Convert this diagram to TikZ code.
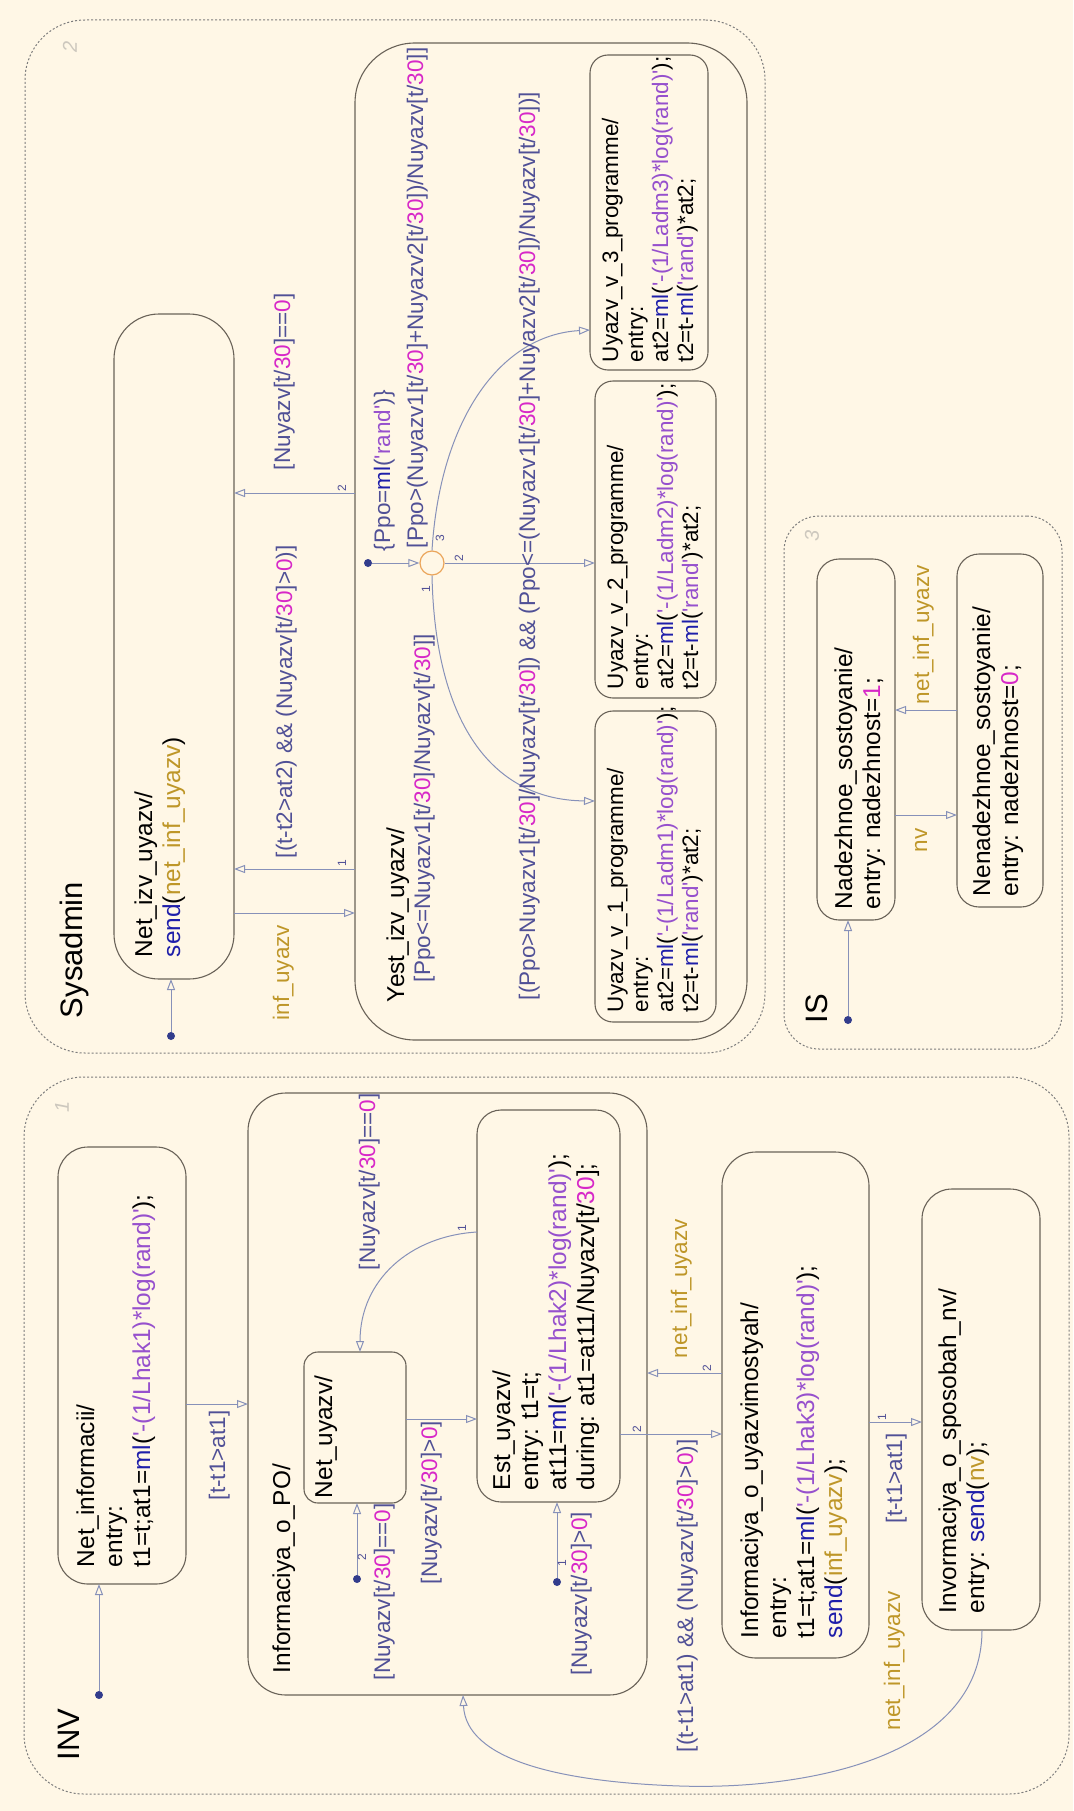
\documentclass[tikz,border=0pt]{standalone}
\usepackage{fontspec}
\newfontfamily\chartfont{Liberation Sans}
\usetikzlibrary{arrows.meta}

\definecolor{bg}{RGB}{255,247,230}
\definecolor{stborder}{RGB}{105,98,88}
\definecolor{trline}{RGB}{135,145,185}
\definecolor{trtext}{RGB}{80,80,150}
\definecolor{kwc}{RGB}{30,30,170}
\definecolor{strc}{RGB}{150,80,205}
\definecolor{numc}{RGB}{215,40,200}
\definecolor{evc}{RGB}{190,150,40}
\definecolor{subb}{RGB}{125,125,125}
\definecolor{dotc}{RGB}{50,60,140}
\definecolor{junc}{RGB}{235,165,90}
\definecolor{faint}{RGB}{205,200,190}

% syntax colouring of action and label texts
\newcommand\skw[1]{\textcolor{kwc}{#1}}
\newcommand\sst[1]{\textcolor{strc}{#1}}
\newcommand\snum[1]{\textcolor{numc}{#1}}
\newcommand\sev[1]{\textcolor{evc}{#1}}

% rounded box node from its corner coordinates: [style]{name}{x1}{y1}{x2}{y2}{radius}
\newcommand\mkbox[7][stbox]{%
  \node[#1, rounded corners=#7pt, minimum width={(#5)-(#3)}, minimum height={(#6)-(#4)}]
    (#2) at ({((#3)+(#5))/2},{((#4)+(#6))/2}) {};}

\begin{document}
\begin{tikzpicture}[x=1pt,y=-1pt,
  stbox/.style={draw=stborder, line width=1.1pt, fill=bg, inner sep=0pt, outer sep=0pt},
  subbox/.style={draw=subb, line width=1pt, dash pattern=on 2pt off 2pt, inner sep=0pt, outer sep=0pt},
  tr/.style={draw=trline, line width=1pt, -{Triangle[open, length=11pt, width=8pt, line width=1pt]}},
  rt/.style={rotate=90, inner sep=0pt, outer sep=0pt, anchor=base west},
  sttext/.style={rt, font=\chartfont\fontsize{24.4}{28}\selectfont, text=black},
  smtext/.style={rt, font=\chartfont\fontsize{22.4}{25}\selectfont, text=black},
  lbl/.style={rt, font=\chartfont\fontsize{22.5}{25}\selectfont, text=trtext},
  ord/.style={rotate=90, inner sep=0pt, font=\chartfont\fontsize{12}{12}\selectfont, text=trtext},
  ttl/.style={rt, font=\chartfont\fontsize{31}{36}\selectfont, text=black},
  faintnum/.style={rotate=90, inner sep=0pt, font=\chartfont\itshape\fontsize{20}{20}\selectfont, text=faint},
  dflt/.style={circle, fill=dotc, inner sep=0pt, minimum size=8pt},
]
\useasboundingbox (0,0) rectangle (1073,1811);
\fill[bg] (0,0) rectangle (1073,1811);

% ---------- subcharts ----------
\mkbox[subbox]{sys}{25}{20}{765}{1053}{60}
\mkbox[subbox]{isch}{784}{516}{1062}{1049}{35}
\mkbox[subbox]{inv}{24}{1077}{1069}{1794}{60}

\node[ttl] (tSys) at (82,1018) {Sysadmin};
\node[ttl] (tIS) at (827,1023) {IS};
\node[ttl] (tINV) at (79,1760) {INV};
\node[faintnum] (nSys) at (70,47) {2};
\node[faintnum] (nIS) at (812,536) {3};
\node[faintnum] (nINV) at (62,1107) {1};

% ---------- states ----------
\mkbox{netizv}{114}{314}{234}{979}{45}
\mkbox{yest}{355}{43}{747}{1040}{60}
\mkbox{uv3}{590}{55}{708}{370}{18}
\mkbox{uv2}{595}{381}{716}{698}{18}
\mkbox{uv1}{595}{711}{716}{1022}{18}
\mkbox{nad}{817}{559}{895}{920}{22}
\mkbox{nenad}{957}{554}{1043}{907}{22}
\mkbox{netinf}{58}{1147}{186}{1584}{30}
\mkbox{infpo}{248}{1093}{647}{1695}{38}
\mkbox{netuy}{304}{1352}{406}{1503}{14}
\mkbox{estuy}{477}{1110}{620}{1502}{24}
\mkbox{infuy}{722}{1152}{869}{1658}{34}
\mkbox{irv}{922}{1189}{1040}{1630}{30}

% ---------- Sysadmin transitions ----------
\node[dflt] (dNi) at (171,1036) {};
\draw[tr] (dNi) -- (dNi |- netizv.south);
\draw[tr] (netizv.east |- 0,913) -- (yest.west |- 0,913);
\draw[tr] (yest.west |- 0,869) -- (netizv.east |- 0,869);
\draw[tr] (yest.west |- 0,493) -- (netizv.east |- 0,493);
\node[ord] (oS1) at (342,863) {1};
\node[ord] (oS2) at (342,488) {2};

\node[circle, draw=junc, fill=bg, line width=1.2pt, minimum size=24pt, inner sep=0pt] (jn) at (432,563) {};
\node[dflt] (dJ) at (368,563) {};
\draw[tr] (dJ) -- (jn);
\draw[tr] (jn) -- (uv2.west |- jn);
\draw[tr] (jn.north) .. controls (440,420) and (500,335) .. (uv3.west |- 0,330);
\draw[tr] (jn.south) .. controls (435,720) and (490,800) .. (uv1.west |- 0,801);
\node[ord] (oJ3) at (440,538) {3};
\node[ord] (oJ2) at (459,558) {2};
\node[ord] (oJ1) at (426,589) {1};

% ---------- IS transitions ----------
\node[dflt] (dNa) at (848,1020) {};
\draw[tr] (dNa) -- (dNa |- nad.south);
\draw[tr] (nad.east |- 0,815) -- (nenad.west |- 0,815);
\draw[tr] (nenad.west |- 0,710) -- (nad.east |- 0,710);

% ---------- INV transitions ----------
\node[dflt] (dNf) at (99,1695) {};
\draw[tr] (dNf) -- (dNf |- netinf.south);
\draw[tr] (netinf.east |- 0,1404) -- (infpo.west |- 0,1404);
\node[dflt] (dNu) at (357,1579) {};
\draw[tr] (dNu) -- (dNu |- netuy.south);
\node[ord] (oN2) at (362,1557) {2};
\draw[tr] (netuy.east |- 0,1419) -- (estuy.west |- 0,1419);
\draw[tr] (estuy.west |- 0,1232) .. controls (410,1236) and (360,1280) .. (netuy.north -| 360,0);
\node[ord] (oE1) at (462,1228) {1};
\node[dflt] (dEu) at (557,1582) {};
\draw[tr] (dEu) -- (dEu |- estuy.south);
\node[ord] (oD1) at (562,1563) {1};
\draw[tr] (estuy.east |- 0,1434) -- (infuy.west |- 0,1434);
\node[ord] (oE2) at (637,1429) {2};
\draw[tr] (infuy.west |- 0,1373) -- (infpo.east |- 0,1373);
\node[ord] (oI2) at (707,1368) {2};
\draw[tr] (infuy.east |- 0,1422) -- (irv.west |- 0,1422);
\node[ord] (oI1) at (882,1417) {1};
\draw[tr] (irv.south -| 982,0) .. controls (982,1760) and (800,1790) .. (680,1786)
  .. controls (560,1782) and (466,1760) .. (infpo.south -| 463,0);

% ---------- state texts: Sysadmin ----------
\node[sttext] (tNi1) at (152,957) {Net\_izv\_uyazv/};
\node[sttext] (tNi2) at (180,957) {\skw{send}(\sev{net\_inf\_uyazv})};
\node[sttext] (tYe) at (404,1002) {Yest\_izv\_uyazv/};

\node[smtext] (tU31) at (618,362) {Uyazv\_v\_3\_programme/};
\node[smtext] (tU32) at (643,362) {entry:};
\node[smtext] (tU33) at (668,362) {at2=\skw{ml}(\sst{'-(1/Ladm3)*log(rand)'});};
\node[smtext] (tU34) at (693,362) {t2=t-\skw{ml}(\sst{'rand'})*at2;};

\node[smtext] (tU21) at (623,689) {Uyazv\_v\_2\_programme/};
\node[smtext] (tU22) at (648,689) {entry:};
\node[smtext] (tU23) at (673,689) {at2=\skw{ml}(\sst{'-(1/Ladm2)*log(rand)'});};
\node[smtext] (tU24) at (698,689) {t2=t-\skw{ml}(\sst{'rand'})*at2;};

\node[smtext] (tU11) at (623,1012) {Uyazv\_v\_1\_programme/};
\node[smtext] (tU12) at (648,1012) {entry:};
\node[smtext] (tU13) at (673,1012) {at2=\skw{ml}(\sst{'-(1/Ladm1)*log(rand)'});};
\node[smtext] (tU14) at (698,1012) {t2=t-\skw{ml}(\sst{'rand'})*at2;};

% ---------- transition labels: Sysadmin ----------
\node[lbl] (lInf) at (289,1020) {\sev{inf\_uyazv}};
\node[lbl] (lT1) at (292,858) {[(t-t2>at2) \&\& (Nuyazv[t/\snum{30}]>\snum{0})]};
\node[lbl] (lT2) at (290,470) {[Nuyazv[t/\snum{30}]==\snum{0}]};
\node[lbl] (lPpo) at (390,551) {\{Ppo=\skw{ml}(\sst{'rand'})\}};
\node[lbl] (lJ3) at (423,548) {[Ppo>(Nuyazv1[t/\snum{30}]+Nuyazv2[t/\snum{30}])/Nuyazv[t/\snum{30}]]};
\node[lbl] (lJ1) at (430,982) {[Ppo<=Nuyazv1[t/\snum{30}]/Nuyazv[t/\snum{30}]]};
\node[lbl] (lJ2) at (535,1000) {[(Ppo>Nuyazv1[t/\snum{30}]/Nuyazv[t/\snum{30}]) \&\& (Ppo<=(Nuyazv1[t/\snum{30}]+Nuyazv2[t/\snum{30}])/Nuyazv[t/\snum{30}])]};

% ---------- IS texts ----------
\node[sttext] (tNa1) at (852,909) {Nadezhnoe\_sostoyanie/};
\node[sttext] (tNa2) at (880,909) {entry: nadezhnost=\snum{1};};
\node[sttext] (tNn1) at (990,896) {Nenadezhnoe\_sostoyanie/};
\node[sttext] (tNn2) at (1018,896) {entry: nadezhnost=\snum{0};};
\node[lbl] (lNv) at (927,852) {\sev{nv}};
\node[lbl] (lNiu) at (929,704) {\sev{net\_inf\_uyazv}};

% ---------- INV texts ----------
\node[sttext] (tNf1) at (94,1567) {Net\_informacii/};
\node[sttext] (tNf2) at (122,1567) {entry:};
\node[sttext] (tNf3) at (150,1567) {t1=t;at1=\skw{ml}(\sst{'-(1/Lhak1)*log(rand)'});};
\node[sttext] (tPo) at (290,1673) {Informaciya\_o\_PO/};
\node[sttext] (tNu) at (332,1498) {Net\_uyazv/};
\node[sttext] (tEs1) at (510,1490) {Est\_uyazv/};
\node[sttext] (tEs2) at (538,1490) {entry: t1=t;};
\node[sttext] (tEs3) at (566,1490) {at11=\skw{ml}(\sst{'-(1/Lhak2)*log(rand)'});};
\node[sttext] (tEs4) at (594,1490) {during: at1=at11/Nuyazv[t/\snum{30}];};
\node[sttext] (tIu1) at (758,1638) {Informaciya\_o\_uyazvimostyah/};
\node[sttext] (tIu2) at (786,1638) {entry:};
\node[sttext] (tIu3) at (814,1638) {t1=t;at1=\skw{ml}(\sst{'-(1/Lhak3)*log(rand)'});};
\node[sttext] (tIu4) at (842,1638) {\skw{send}(\sev{inf\_uyazv});};
\node[sttext] (tIr1) at (956,1613) {Invormaciya\_o\_sposobah\_nv/};
\node[sttext] (tIr2) at (984,1613) {entry: \skw{send}(\sev{nv});};

% ---------- transition labels: INV ----------
\node[lbl] (lA) at (225,1500) {[t-t1>at1]};
\node[lbl] (lB) at (390,1680) {[Nuyazv[t/\snum{30}]==\snum{0}]};
\node[lbl] (lC) at (437,1584) {[Nuyazv[t/\snum{30}]>\snum{0}]};
\node[lbl] (lD) at (587,1675) {[Nuyazv[t/\snum{30}]>\snum{0}]};
\node[lbl] (lE) at (375,1270) {[Nuyazv[t/\snum{30}]==\snum{0}]};
\node[lbl] (lF) at (687,1358) {\sev{net\_inf\_uyazv}};
\node[lbl] (lG) at (693,1752) {[(t-t1>at1) \&\& (Nuyazv[t/\snum{30}]>\snum{0})]};
\node[lbl] (lH) at (902,1523) {[t-t1>at1]};
\node[lbl] (lK) at (900,1730) {\sev{net\_inf\_uyazv}};
\end{tikzpicture}
\end{document}
